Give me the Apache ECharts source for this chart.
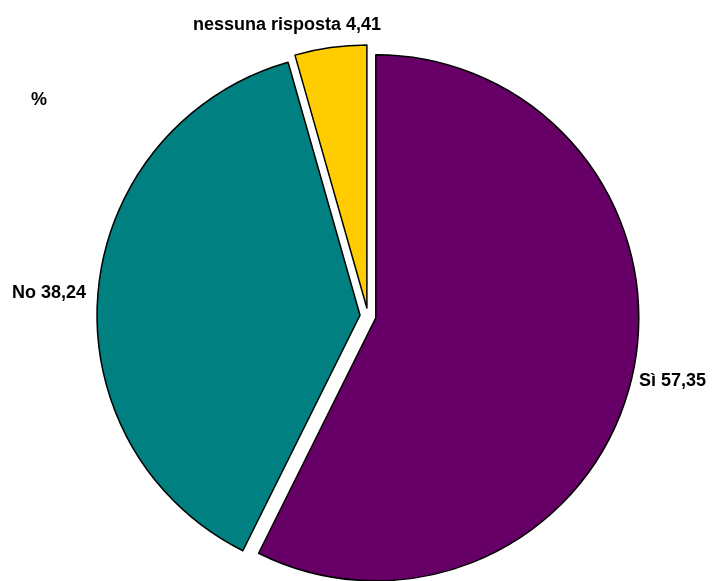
<!DOCTYPE html>
<html>
<head>
<meta charset="utf-8">
<script src="https://cdn.jsdelivr.net/npm/echarts@6/dist/echarts.min.js"></script>
<style>html,body{margin:0;padding:0;background:#fff;}#c{width:719px;height:581px;}</style>
</head>
<body>
<div id="c"></div>
<script>
var categories = ['Sì', 'No', 'nessuna risposta'];
var values = [57.35, 38.24, 4.41];
var colors = ['#660066', '#008080', '#FFCC00'];
var unitLabel = '%';

// label anchor positions (layout only)
var labelPos = [
  {x: 639, y: 381, align: 'left'},
  {x: 12, y: 293, align: 'left'},
  {x: 287, y: 25, align: 'center'}
];
var fontFam = 'Liberation Sans, Arial, sans-serif';

var chart = echarts.init(document.getElementById('c'), null, {renderer: 'canvas'});
var data = categories.map(function (n, i) {
  return {
    name: n,
    value: values[i],
    selected: true,
    itemStyle: {color: colors[i]}
  };
});
var labelGraphics = categories.map(function (n, i) {
  return {
    type: 'text',
    x: labelPos[i].x,
    y: labelPos[i].y,
    style: {
      text: n + ' ' + String(values[i]).replace('.', ','),
      font: 'bold 18px ' + fontFam,
      fill: '#000',
      textAlign: labelPos[i].align,
      textVerticalAlign: 'middle'
    }
  };
});
chart.setOption({
  animation: false,
  backgroundColor: '#ffffff',
  title: {
    text: unitLabel,
    left: 26,
    top: 86,
    textStyle: {fontFamily: fontFam, fontWeight: 'bold', fontSize: 18, color: '#000'}
  },
  graphic: labelGraphics,
  series: [{
    type: 'pie',
    center: [368, 316],
    radius: [0, 263],
    startAngle: 90,
    clockwise: true,
    selectedMode: 'multiple',
    selectedOffset: 8,
    emphasis: {disabled: true},
    itemStyle: {borderColor: '#000', borderWidth: 1.5},
    label: {show: false},
    labelLine: {show: false},
    data: data
  }]
});
</script>
</body>
</html>
